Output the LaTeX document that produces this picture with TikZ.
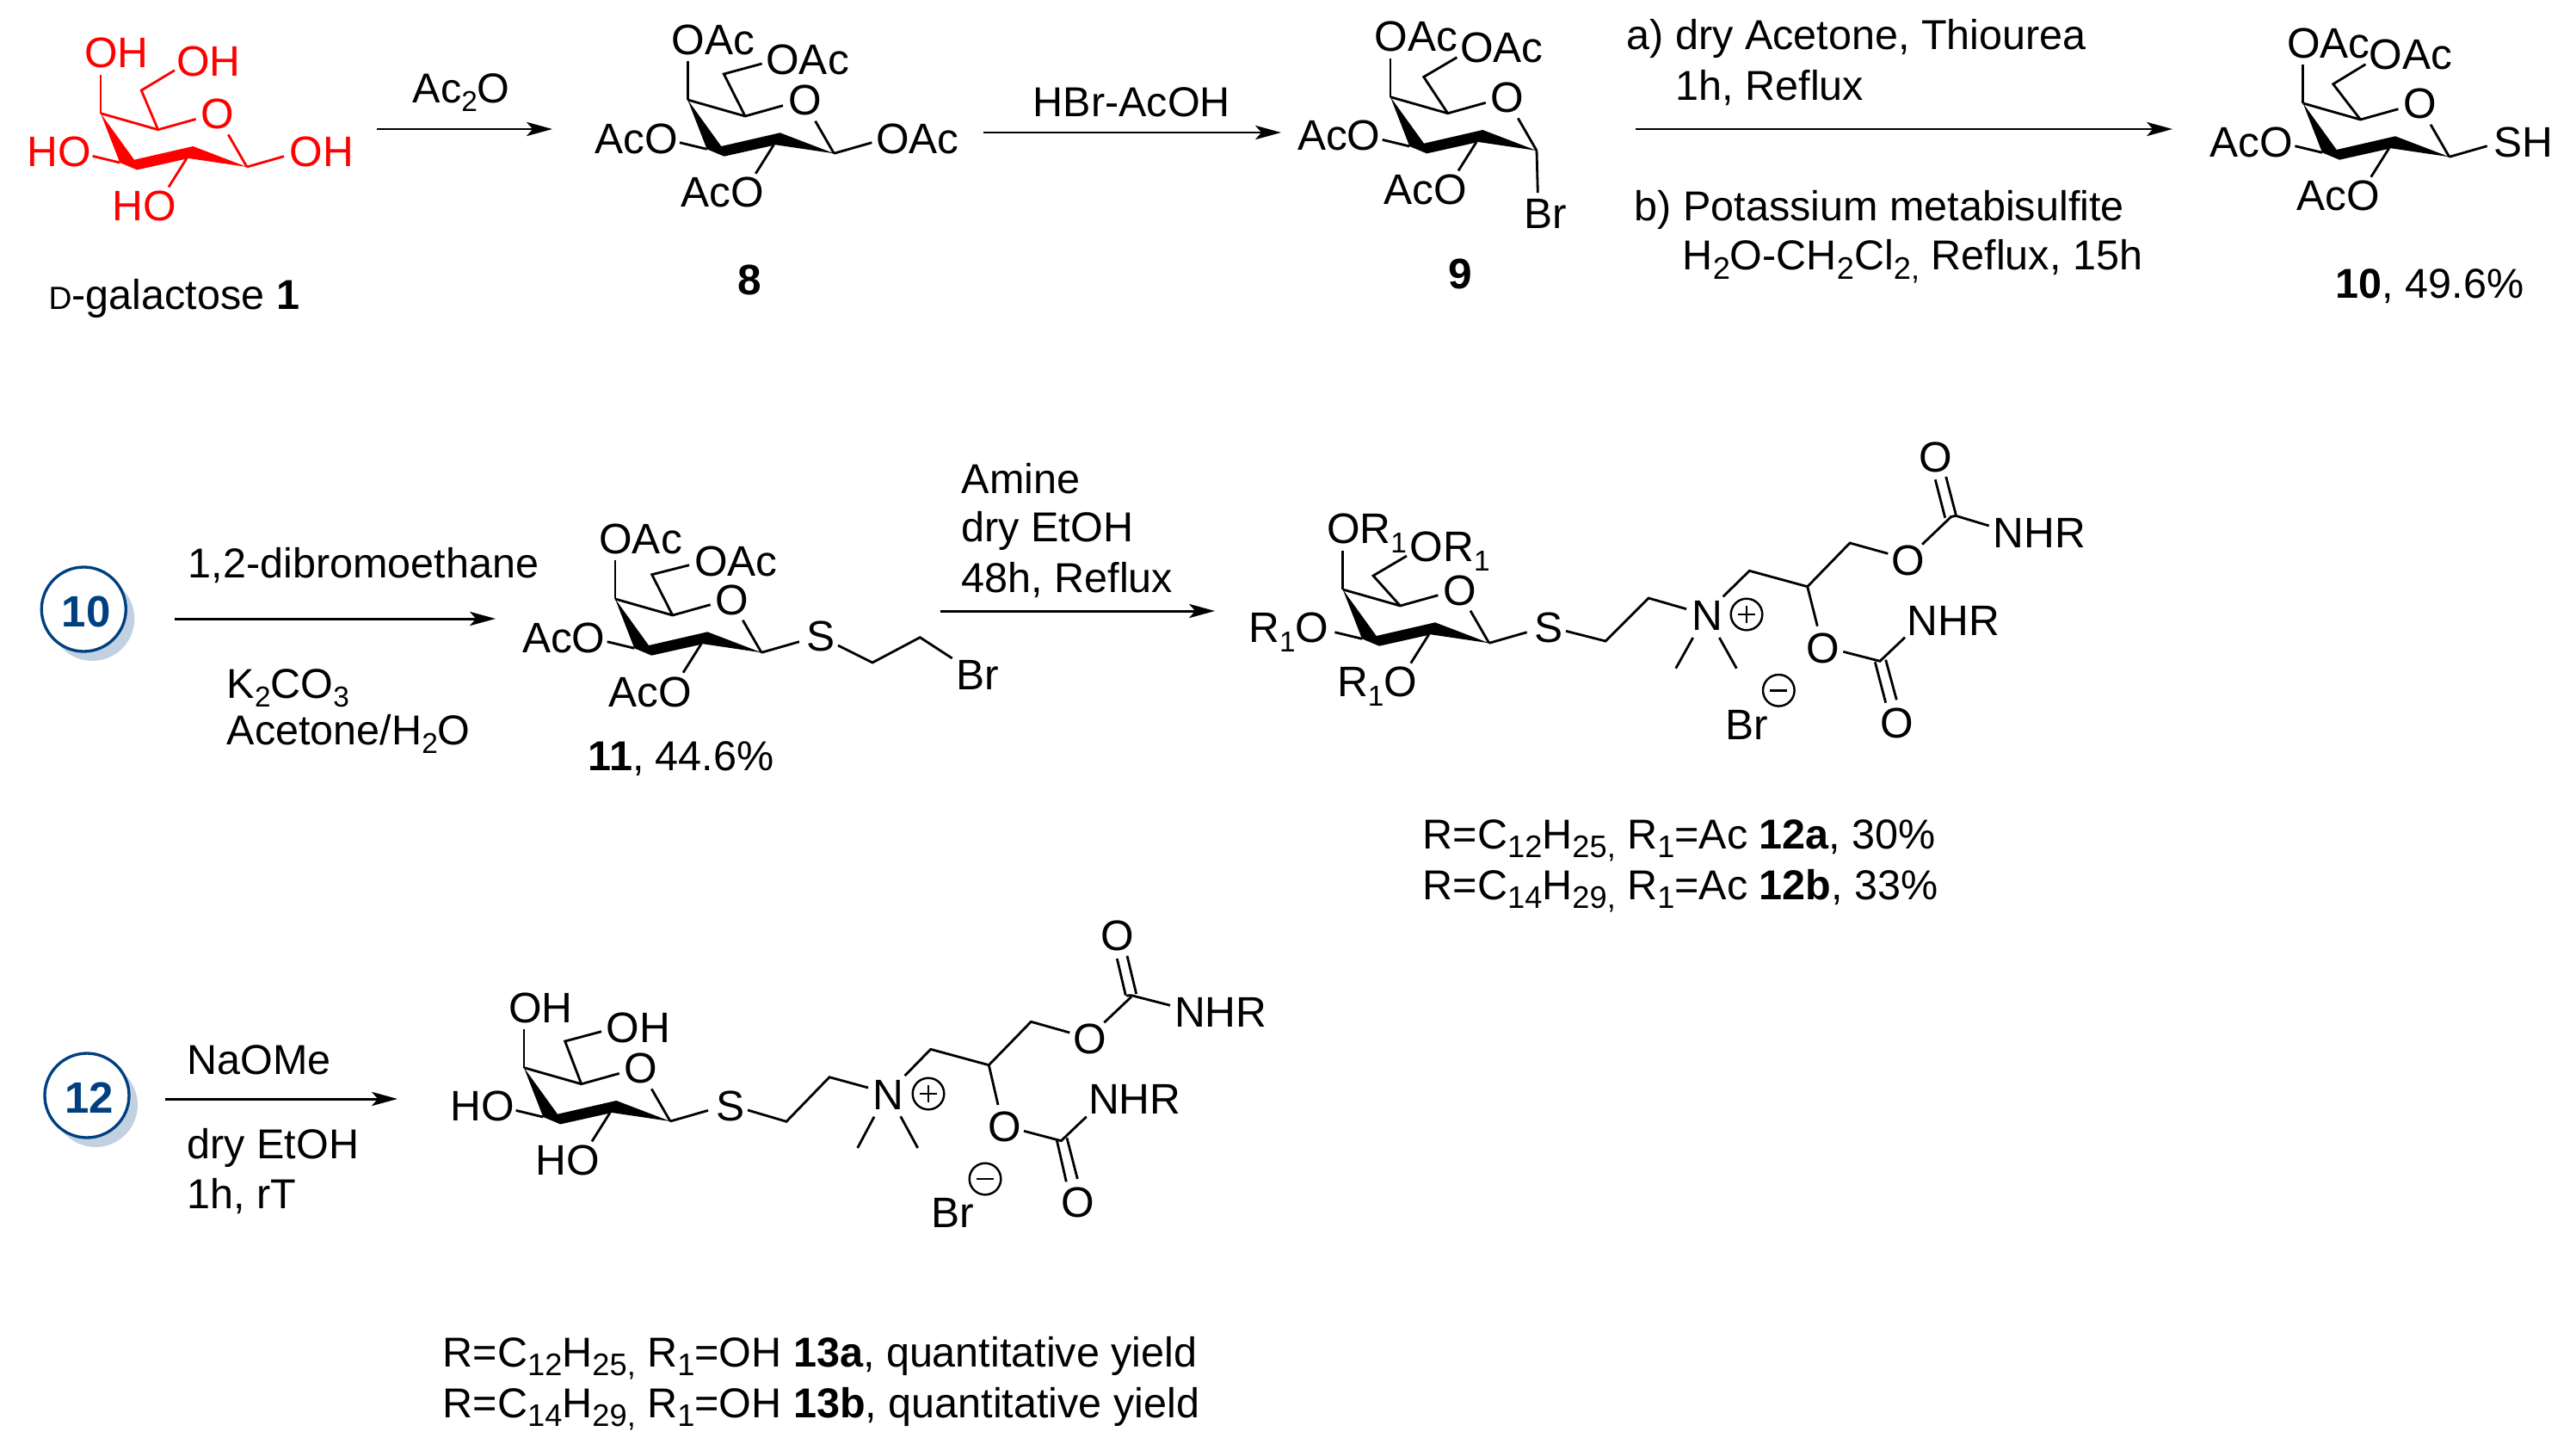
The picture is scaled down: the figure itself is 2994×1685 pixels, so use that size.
\documentclass[tikz,border=0pt]{standalone}
\usepackage{fontspec}
\setmainfont{Liberation Sans}
\usetikzlibrary{arrows.meta}
\definecolor{sred}{RGB}{255,0,0}
\definecolor{cblue}{RGB}{0,64,128}
\definecolor{cshadow}{RGB}{194,209,226}
\newcounter{lblc}
\newcommand\lab[3]{\stepcounter{lblc}\node[lbl] (l\arabic{lblc}) at (#1,#2) {#3};}
\newcommand\labt[3]{\stepcounter{lblc}\node[lblt] (l\arabic{lblc}) at (#1,#2) {#3};}
\newcommand\labc[3]{\stepcounter{lblc}\node[lblc] (l\arabic{lblc}) at (#1,#2) {#3};}
\newcommand\sbb[1]{\raisebox{-0.22em}{\fontsize{9.5pt}{9.5pt}\selectfont #1}}
\newcommand\sbc[1]{\raisebox{-0.22em}{\fontsize{10.3pt}{10.3pt}\selectfont #1}}
% x y chx chy endx endy colour c1x c1y
\newcommand\sugar[9]{%
\begin{scope}[shift={(#1,#2)},color=#7]
\fill (0,0)--(39,54)--(107.3,38.3)--(170,62.3)--(102.3,52.3)--(42.3,65.7)--(22.3,57.3)--cycle;
\draw[bond] (0,0)--(66.7,19)--(110.7,6.7);
\draw[bond] (148.3,24.7)--(170,62.3);
\draw[bond] (66.7,19)--(#3,#4)--(#5,#6);
\draw[bond] (0,0)--(0,-45);
\draw[bond] (-9.3,49.7)--(22.3,57.3);
\draw[bond] (100,52.3)--(79,85.7);
\draw[bond] (170,62.3)--(#8,#9);
\lab{116}{18}{O}
\end{scope}}
\newcommand\sugarAc[2]{%
\begin{scope}[shift={(#1,#2)}]
\lab{-19.3}{-52.7}{OAc}
\lab{-108.7}{62.3}{AcO}
\lab{-8.3}{125}{AcO}
\end{scope}}
\newcommand\plusc[2]{\draw[chg] (#1,#2) circle (18.3); \draw[chg] (#1-10,#2)--(#1+10,#2) (#1,#2-10)--(#1,#2+10);}
\newcommand\minusc[2]{\draw[chg] (#1,#2) circle (18.3); \draw[chg] (#1-10,#2)--(#1+10,#2);}
\newcommand\badge[3]{%
\fill[cshadow] (#1+10,#2+11) circle (49);
\draw[cblue,fill=white,line width=0.95pt] (#1,#2) circle (49);
\stepcounter{lblc}\node[inner sep=0pt,text=cblue,font=\fontsize{14.5pt}{17pt}\selectfont\bfseries] (l\arabic{lblc}) at (#1+3,#2+3) {#3};}
\begin{document}
\begin{tikzpicture}[x=0.01cm,y=-0.01cm,
  bond/.style={line width=0.8pt,line join=miter},
  chg/.style={line width=0.7pt},
  rxn/.style={line width=0.85pt,-{Stealth[length=8.5pt,width=4.6pt,inset=2pt]}},
  lbl/.style={anchor=base west,inner sep=0pt,font=\fontsize{14.1pt}{17pt}\selectfont},
  lblt/.style={anchor=base west,inner sep=0pt,font=\fontsize{13.8pt}{17pt}\selectfont},
  lblc/.style={anchor=base,inner sep=0pt,font=\fontsize{14.1pt}{17pt}\selectfont}]
\fill[white] (0,0) rectangle (2994,1685);
\useasboundingbox (0,0) rectangle (2994,1685);
% --- compound 1
\sugar{117}{131.7}{47.3}{-26.7}{86}{-50}{sred}{213}{50}
\begin{scope}[color=sred]
\lab{97.5}{78.3}{OH}
\lab{204.6}{88.3}{OH}
\lab{31}{193.3}{HO}
\lab{130}{256}{HO}
\lab{336}{193.3}{OH}
\end{scope}
\labt{56}{359}{{\fontsize{10.6pt}{11pt}\selectfont D}-galactose \textbf{1}}
% --- arrow 1
\coordinate (a1s) at (438,150); \coordinate (a1e) at (642,150);
\draw[rxn] (a1s)--(a1e);
\labt{479}{119.3}{Ac\sbb{2}O}
% --- compound 8
\sugar{799.3}{116}{42}{-30}{86.3}{-42}{black}{214}{49.7}
\sugarAc{799.3}{116}
\lab{889.7}{86.7}{OAc}
\lab{1017.3}{178.3}{OAc}
\labc{871.7}{342.5}{\textbf{8}}
% --- arrow 2
\coordinate (a2s) at (1142.7,154); \coordinate (a2e) at (1489,154);
\draw[rxn] (a2s)--(a2e);
\labt{1200}{136}{HBr-AcOH}
% --- compound 9
\sugar{1616}{112.7}{38.7}{-23.3}{77.3}{-46}{black}{171.3}{111.3}
\sugarAc{1616}{112.7}
\lab{1696.3}{72.3}{OAc}
\lab{1771}{265}{Br}
\labc{1697.7}{335}{\textbf{9}}
% --- arrow 3
\coordinate (a3s) at (1901,150); \coordinate (a3e) at (2525,150);
\draw[rxn] (a3s)--(a3e);
\labt{1890}{57.6}{a) dry Acetone, Thiourea}
\labt{1947}{117}{1h, Reflux}
\labt{1899}{257}{b) Potassium metabisulfite}
\labt{1955}{314}{H\sbc{2}O-CH\sbc{2}Cl\sbc{2,} Reflux, 15h}
% --- compound 10
\sugar{2676.7}{120}{35}{-22.3}{72.7}{-45.3}{black}{214}{49.7}
\sugarAc{2676.7}{120}
\lab{2753}{80.7}{OAc}
\lab{2897.3}{182.3}{SH}
\labt{2714}{346.7}{\textbf{10}, 49.6\%}
% --- row 2
\badge{97.3}{708}{10}
\coordinate (a4s) at (203,719); \coordinate (a4e) at (576,719);
\draw[rxn] (a4s)--(a4e);
\labt{218}{671}{1,2-dibromoethane}
\labt{263}{811}{K\sbb{2}CO\sbb{3}}
\labt{263}{865}{Acetone/H\sbb{2}O}
% --- compound 11
\sugar{715}{696}{42.7}{-28.3}{86}{-39.3}{black}{214}{49.7}
\sugarAc{715}{696}
\lab{806.3}{669}{OAc}
\lab{936.3}{756.7}{S}
\draw[bond] (974,750)--(1014,770)--(1069.3,740.7)--(1106.7,765);
\lab{1111}{801}{Br}
\labt{683}{895}{\textbf{11}, 44.6\%}
% --- arrow 5
\coordinate (a5s) at (1093,710); \coordinate (a5e) at (1412,710);
\draw[rxn] (a5s)--(a5e);
\labt{1117}{573}{Amine}
\labt{1117}{629}{dry EtOH}
\labt{1117}{688}{48h, Reflux}
% --- compound 12
\sugar{1560.7}{685}{35.3}{-16}{74.3}{-39}{black}{214}{49.7}
\lab{1541.3}{631.7}{OR\sbb{1}}
\lab{1638}{652.3}{OR\sbb{1}}
\stepcounter{lblc}\node[lbl,anchor=base east] (l\arabic{lblc}) at (1545,746.7) {R\sbb{1}O};
\lab{1553.3}{809.3}{R\sbb{1}O}
\lab{1783}{746}{S}
\draw[bond] (1820,733.3)--(1866,745)--(1916,695)--(1960,707.7);
\lab{1965.3}{732.7}{N}
\draw[bond] (1967.7,741)--(1947.7,776.7);
\draw[bond] (1998.3,741)--(2018.3,776.7);
\plusc{2030}{714}
\draw[bond] (2002.7,693.3)--(2033.3,663.3)--(2100.7,681.7)--(2150,631)--(2194.3,643.3);
\lab{2198}{668.3}{O}
\draw[bond] (2234,632.7)--(2268.3,600);
\draw[bond] (2249.3,557.3)--(2260.7,601.7);
\draw[bond] (2261.7,554)--(2273.3,598.3);
\lab{2229.7}{548}{O}
\draw[bond] (2266,601)--(2273,599.3)--(2311.7,611);
\lab{2316}{636.7}{NHR}
\draw[bond] (2100.7,681.7)--(2112.3,727.7);
\lab{2099}{770}{O}
\draw[bond] (2142.3,757.3)--(2185,768.3)--(2214,740.7);
\lab{2216}{738.3}{NHR}
\draw[bond] (2179.3,769.3)--(2191.7,816.7);
\draw[bond] (2191.7,766.7)--(2204.3,813.3);
\lab{2184.7}{857.7}{O}
\lab{2004.3}{859}{Br}
\minusc{2067.3}{802.3}
\labt{1653}{986}{R=C\sbc{12}H\sbc{25,} R\sbc{1}=Ac \textbf{12a}, 30\%}
\labt{1653}{1045}{R=C\sbc{14}H\sbc{29,} R\sbc{1}=Ac \textbf{12b}, 33\%}
% --- row 3
\badge{101}{1273}{12}
\coordinate (a6s) at (192,1277); \coordinate (a6e) at (462,1277);
\draw[rxn] (a6s)--(a6e);
\labt{217}{1248}{NaOMe}
\labt{217}{1346}{dry EtOH}
\labt{217}{1404}{1h, rT}
% --- compound 13
\sugar{609}{1240.7}{47.7}{-30.7}{90}{-42}{black}{214}{49.7}
\lab{590.3}{1188.3}{OH}
\lab{704}{1211}{OH}
\lab{522.7}{1302.7}{HO}
\lab{622}{1365.3}{HO}
\lab{831.3}{1302.7}{S}
\draw[bond] (869,1290)--(914,1303.3)--(964,1251.7)--(1009,1264);
\lab{1013.3}{1289.3}{N}
\draw[bond] (1016,1297.7)--(996.7,1334);
\draw[bond] (1046.7,1297.3)--(1066.7,1334);
\plusc{1079}{1271}
\draw[bond] (1051.7,1250)--(1081.7,1219.3)--(1149.3,1237.7)--(1198.3,1187.3)--(1243.3,1200);
\lab{1246.3}{1224.3}{O}
\draw[bond] (1283.3,1188.3)--(1315,1158.3);
\draw[bond] (1298.3,1114)--(1308.3,1156.7);
\draw[bond] (1310,1110.7)--(1320.7,1155);
\lab{1278.3}{1104}{O}
\draw[bond] (1309,1157)--(1315,1156.7)--(1360,1168.3);
\lab{1364.3}{1193.3}{NHR}
\draw[bond] (1149.3,1237.7)--(1160,1284);
\lab{1148}{1326.7}{O}
\draw[bond] (1190,1314.3)--(1233.3,1325.7)--(1262.7,1297.7);
\lab{1264.3}{1294}{NHR}
\draw[bond] (1228.3,1325)--(1239.3,1373.3);
\draw[bond] (1240,1322.3)--(1252.3,1370);
\lab{1233}{1414.3}{O}
\lab{1082}{1426.7}{Br}
\minusc{1145}{1370}
\labt{514}{1588}{R=C\sbc{12}H\sbc{25,} R\sbc{1}=OH \textbf{13a}, quantitative yield}
\labt{514}{1647}{R=C\sbc{14}H\sbc{29,} R\sbc{1}=OH \textbf{13b}, quantitative yield}
\end{tikzpicture}
\end{document}
